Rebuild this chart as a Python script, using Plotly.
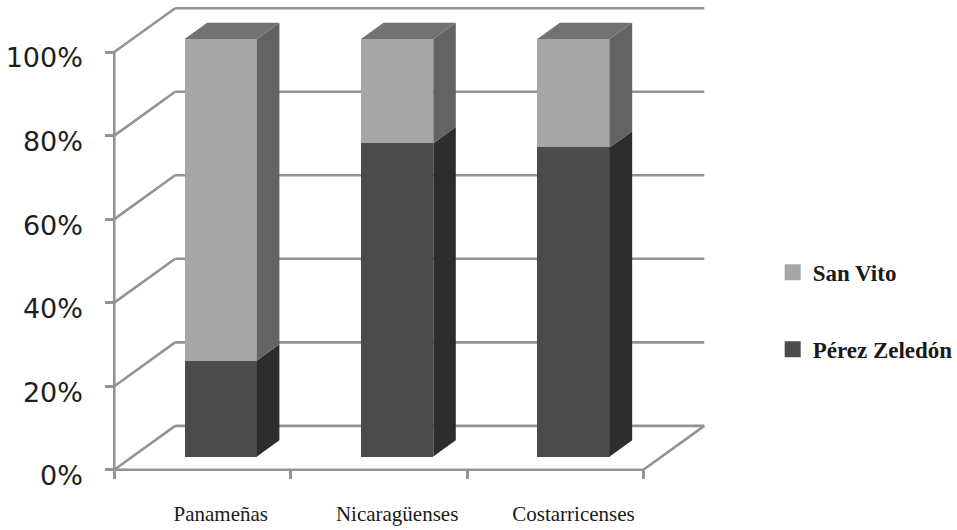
import plotly.graph_objects as go

# ---- data -------------------------------------------------------------
categories = ["Panameñas", "Nicaragüenses", "Costarricenses"]
perez_zeledon = [23, 75, 74]   # % per category
san_vito = [77, 25, 26]        # % per category
y_ticks = [0, 20, 40, 60, 80, 100]
y_tick_labels = ["0%", "20%", "40%", "60%", "80%", "100%"]

# ---- oblique 3-D look -------------------------------------------------
DX, DY = 0.345, 10.5      # depth vector of the chart box (x units, % units)
F0, FD = 0.30, 0.37       # bar front offset and bar depth, fraction of box depth
W = 0.41                  # bar width, in category units
N = len(categories)

GRID = "#939393"
GW = 2.6
colors = {
    "pz": dict(front="#4b4b4b", side="#2d2d2d", top="#3a3a3a"),
    "sv": dict(front="#a6a6a6", side="#636363", top="#727272"),
}

X_MIN, X_MAX = -0.03, 3.40
Y_MIN, Y_MAX = -1.5, 111.5

fig = go.Figure()

# back wall gridlines (behind the bars)
shapes = []
for v in y_ticks:
    shapes.append(dict(type="line", xref="x", yref="y", layer="below",
                       x0=DX, y0=v + DY, x1=N + DX, y1=v + DY,
                       line=dict(color=GRID, width=GW)))

# side wall diagonals, floor outline and the vertical axis line
lx, ly = [], []
for v in y_ticks:
    lx += [0, DX, None]
    ly += [v, v + DY, None]
lx += [0, N, N + DX, None, 0, 0, None]
ly += [0, 0, DY, None, 0, 100, None]
fig.add_trace(go.Scatter(x=lx, y=ly, mode="lines", line=dict(color=GRID, width=GW),
                         hoverinfo="skip", showlegend=False))

# bars: front faces as real bars, sides / tops as filled polygons
centers = [i + 0.5 + F0 * DX for i in range(N)]
b0 = F0 * DY
series = [("Pérez Zeledón", "pz", perez_zeledon, [0] * N),
          ("San Vito", "sv", san_vito, perez_zeledon)]

for name, key, vals, below in series:
    fig.add_trace(go.Bar(x=centers, y=vals, base=[b0 + b for b in below], width=W,
                         name=name, legendgroup=key, showlegend=False,
                         marker=dict(color=colors[key]["front"], line=dict(width=0))))

for idx, (name, key, vals, below) in enumerate(series):
    sx, sy, tx, ty = [], [], [], []
    for c, v, b in zip(centers, vals, below):
        lo, hi = b0 + b, b0 + b + v
        xr = c + W / 2
        sx += [xr, xr + FD * DX, xr + FD * DX, xr, xr, None]
        sy += [lo, lo + FD * DY, hi + FD * DY, hi, lo, None]
        if idx == len(series) - 1:
            xl = c - W / 2
            tx += [xl, xl + FD * DX, xr + FD * DX, xr, xl, None]
            ty += [hi, hi + FD * DY, hi + FD * DY, hi, hi, None]
    fig.add_trace(go.Scatter(x=sx, y=sy, fill="toself", mode="none",
                             fillcolor=colors[key]["side"], hoverinfo="skip",
                             showlegend=False))
    if tx:
        fig.add_trace(go.Scatter(x=tx, y=ty, fill="toself", mode="none",
                                 fillcolor=colors[key]["top"], hoverinfo="skip",
                                 showlegend=False))

# legend entries (square swatches), San Vito listed first
for name, key, _, _ in reversed(series):
    fig.add_trace(go.Scatter(x=[None], y=[None], mode="markers", name=name,
                             legendgroup=key,
                             marker=dict(symbol="square", size=17,
                                         color=colors[key]["front"])))

# carrier for the tick-mark axis along the floor edge
fig.add_trace(go.Scatter(x=[0, N], y=[0, 0], xaxis="x2", mode="markers",
                         marker=dict(opacity=0), hoverinfo="skip", showlegend=False))

x_pos = (0 - X_MIN) / (X_MAX - X_MIN)
y_pos = (0 - Y_MIN) / (Y_MAX - Y_MIN)

fig.update_layout(
    width=957, height=530,
    margin=dict(l=109, r=243, t=4, b=54, autoexpand=False),
    paper_bgcolor="white", plot_bgcolor="white",
    barmode="overlay", bargap=0,
    shapes=shapes,
    xaxis=dict(range=[X_MIN, X_MAX], anchor="free", position=y_pos, automargin=False,
               tickvals=centers, ticktext=categories, ticks="",
               ticklabelstandoff=29, showgrid=False, zeroline=False, showline=False,
               tickfont=dict(family="Liberation Serif", size=21, color="#1a1a1a")),
    xaxis2=dict(range=[X_MIN, X_MAX], overlaying="x", anchor="free", position=y_pos,
                automargin=False, side="bottom", tickvals=list(range(N + 1)),
                ticks="outside", ticklen=8, tickwidth=GW, tickcolor=GRID,
                showticklabels=False, showgrid=False, zeroline=False, showline=False),
    yaxis=dict(range=[Y_MIN, Y_MAX], anchor="free", position=x_pos, automargin=False,
               tickvals=y_ticks, ticktext=y_tick_labels, ticks="outside", ticklen=9,
               tickwidth=GW, tickcolor=GRID, showgrid=False, zeroline=False,
               showline=False, ticklabelstandoff=17, ticklabelshift=6,
               tickfont=dict(family="DejaVu Sans", size=27, color="#1e1e1e")),
    legend=dict(x=1.097, y=0.477, xanchor="left", yanchor="top",
                traceorder="grouped", tracegroupgap=44,
                font=dict(family="Liberation Serif", size=23, color="#1a1a1a",
                          weight="bold"),
                bgcolor="rgba(0,0,0,0)"),
)

fig.write_html("out.html")
